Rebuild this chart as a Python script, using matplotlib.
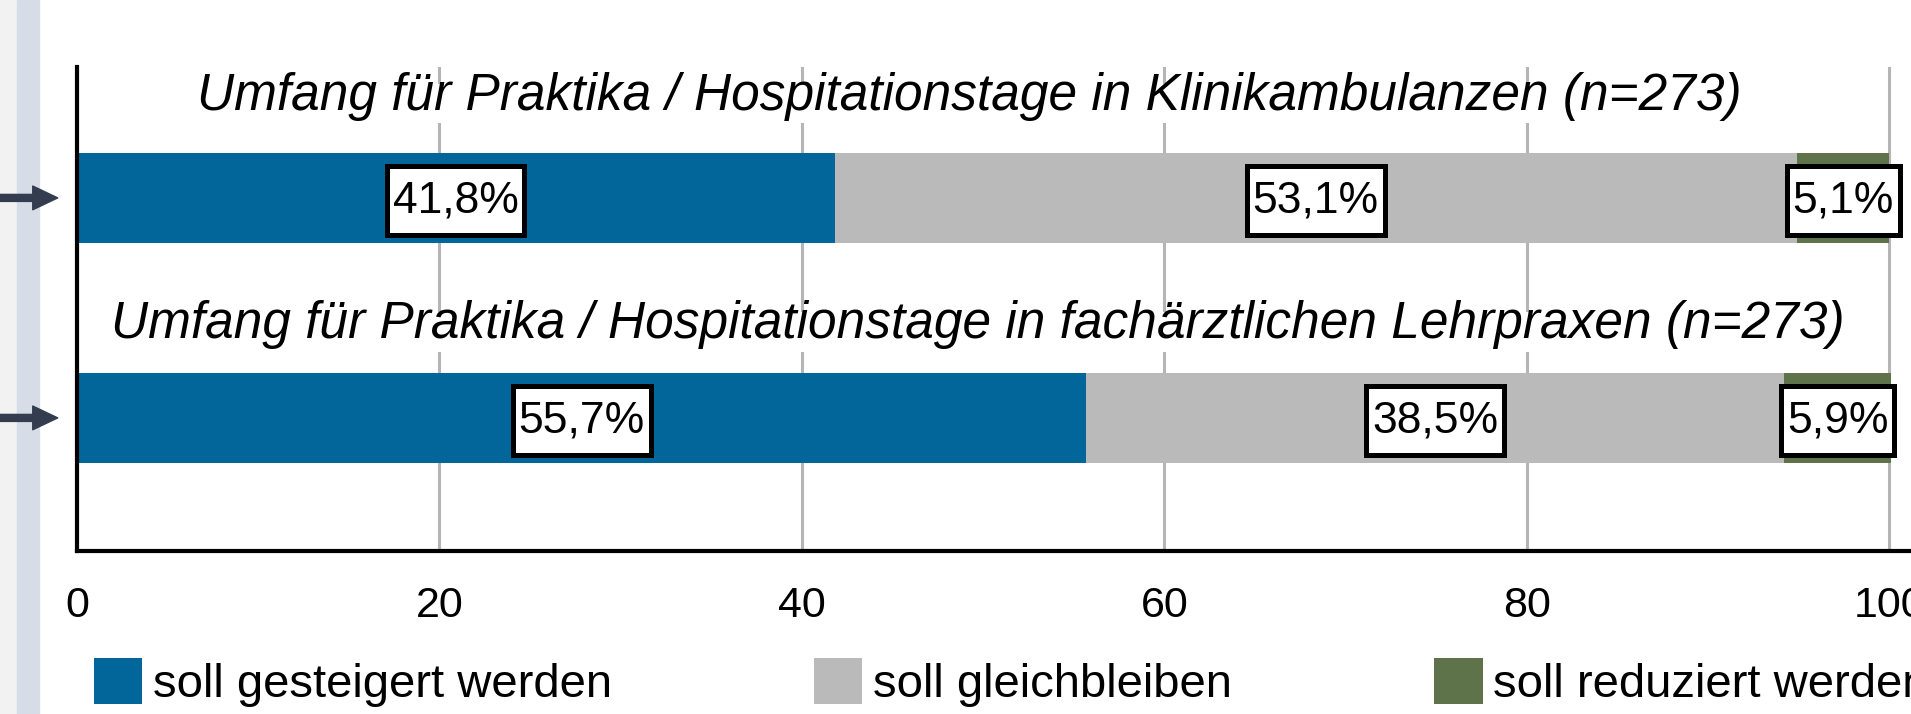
import matplotlib
matplotlib.use("Agg")
import matplotlib.pyplot as plt
from matplotlib.patches import Rectangle
from matplotlib.path import Path

plt.rcParams['font.family'] = ['Liberation Sans', 'DejaVu Sans']

# data
row_titles = ["Umfang für Praktika / Hospitationstage in Klinikambulanzen (n=273)",
              "Umfang für Praktika / Hospitationstage in fachärztlichen Lehrpraxen (n=273)"]
categories = ["soll gesteigert werden", "soll gleichbleiben", "soll reduziert werden"]
gesteigert = [41.8, 55.7]
gleich = [53.1, 38.5]
reduziert = [5.1, 5.9]
xticks = [0, 20, 40, 60, 80, 100]

colors = ["#02669a", "#bababa", "#5e7349"]
ypos = [1, 0]  # first row on top


def make_box(left, right, bottom, top):
    # rectangle box with its own padding on each side (fractions of font size)
    def box(x0, y0, width, height, mutation_size):
        xa, xb = x0 - left * mutation_size, x0 + width + right * mutation_size
        ya, yb = y0 - bottom * mutation_size, y0 + height + top * mutation_size
        return Path([(xa, ya), (xb, ya), (xb, yb), (xa, yb), (xa, ya)], closed=True)
    return box


label_box = make_box(0.13, 0.13, 0.31, 0.31)
title_box = make_box(0.12, 0.12, 0.05, -0.24)

fig = plt.figure(figsize=(19.11, 7.14), dpi=100)
W, H = 1911, 714

# strips on the far left (slide background)
fig.patches.append(Rectangle((0, 0), 17 / W, 1, transform=fig.transFigure,
                             color="#f2f2f2", zorder=-2))
fig.patches.append(Rectangle((17 / W, 0), 22 / W, 1, transform=fig.transFigure,
                             color="#d6dde7", zorder=-2))

ax = fig.add_axes([77 / W, 163 / H, (W - 77) / W, 484 / H])
ax.set_xlim(0, 101.2)
ax.set_ylim(-0.605, 1.595)

series = [gesteigert, gleich, reduziert]
lefts = [0, 0]
handles = []
for vals, col, name in zip(series, colors, categories):
    bars = ax.barh(ypos, vals, left=lefts, height=0.41, color=col, label=name, zorder=2)
    handles.append(bars)
    for y, l, v in zip(ypos, lefts, vals):
        txt = f"{v:.1f}".replace(".", ",") + "%"
        ax.text(l + v / 2, y - 0.012, txt, ha="center", va="center", fontsize=32, zorder=5,
                bbox=dict(boxstyle=label_box, fc="white", ec="black", lw=3.6))
    lefts = [a + b for a, b in zip(lefts, vals)]

# row titles
title_x = [49.26, 49.73]
title_y = [1.40, 0.363]
for t, x, y in zip(row_titles, title_x, title_y):
    ax.text(x, y, t, ha="center", va="baseline", fontsize=37, style="italic", zorder=3,
            bbox=dict(boxstyle=title_box, fc="white", ec="none"))

# arrows from the left margin
for y in ypos:
    ax.annotate("", xy=(-0.0105, y), xycoords=("axes fraction", "data"),
                xytext=(-0.045, y), textcoords=("axes fraction", "data"),
                annotation_clip=False,
                arrowprops=dict(arrowstyle="simple,head_length=1.0,head_width=0.95,tail_width=0.28",
                                mutation_scale=18, color="#343d4f", shrinkA=0, shrinkB=0))

ax.set_xticks(xticks)
ax.set_xticklabels([str(x) for x in xticks])
ax.set_yticks([])
ax.tick_params(axis="x", length=0, pad=25, labelsize=31)
ax.xaxis.grid(True, color="#b5b5b5", lw=2.2)
ax.set_axisbelow(True)

for s in ["top", "right"]:
    ax.spines[s].set_visible(False)
for s in ["left", "bottom"]:
    ax.spines[s].set_linewidth(3)
    ax.spines[s].set_color("black")
    ax.spines[s].set_zorder(4)

fig.legend(handles=handles, labels=categories, ncol=3, frameon=False,
           loc="upper left", bbox_to_anchor=(94 / W, 1 - 658 / H),
           fontsize=34, handlelength=1.02, handleheight=1.12, handletextpad=0.23,
           columnspacing=4.28, borderpad=0, borderaxespad=0)

fig.savefig("out.png", dpi=100)
